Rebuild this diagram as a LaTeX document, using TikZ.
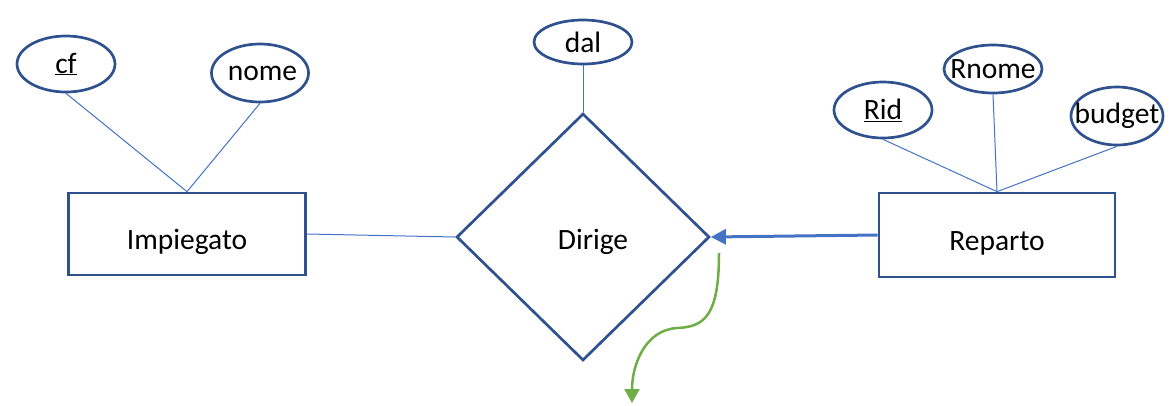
\documentclass[tikz,border=0pt]{standalone}
\usepackage{fontspec}
\setmainfont{Carlito}
\usetikzlibrary{arrows.meta, shapes.geometric}

\definecolor{erline}{HTML}{2F528F}
\definecolor{erlink}{HTML}{4472C4}
\definecolor{ergreen}{HTML}{70AD47}

\begin{document}
\begin{tikzpicture}[
  x=1pt, y=-1pt,
  entity/.style={rectangle, draw=erline, line width=2.7pt, inner sep=0pt, text height=30pt, text depth=0pt},
  attrib/.style={ellipse, draw=erline, line width=2.7pt, inner xsep=-15pt, inner ysep=-8pt},
  relship/.style={diamond, draw=erline, line width=2.7pt, inner sep=0pt},
  link/.style={draw=erlink, line width=1pt},
  every node/.style={font=\fontsize{29.5}{34}\selectfont}
]
\useasboundingbox (0,0) rectangle (1170,405);

% Entities
\node[entity, minimum width=237pt, minimum height=82pt] (imp) at (187,234) {Impiegato};
\node[entity, minimum width=236pt, minimum height=84pt] (rep) at (997,235) {Reparto};

% Relationship
\node[relship, minimum width=253pt, minimum height=247pt] (dirige) at (583,237) {};
\node (dirigetxt) at (593,242) {Dirige};

% Attributes
\node[attrib, minimum width=98pt, minimum height=56pt] (cf) at (66,64) {\underline{cf}};
\node[attrib, minimum width=97pt, minimum height=58pt] (nome) at (260,73) {\,nome};
\node[attrib, minimum width=98pt, minimum height=44pt] (dal) at (583,42) {dal};
\node[attrib, minimum width=98pt, minimum height=56pt] (rid) at (883,110) {\underline{Rid}};
\node[attrib, minimum width=98pt, minimum height=48pt] (rnome) at (993,69) {Rnome};
\node[attrib, minimum width=92pt, minimum height=58pt] (budget) at (1117,116) {budget};

% Attribute links
\draw[link] (cf.south) -- (imp.north);
\draw[link] (nome.south) -- (imp.north);
\draw[link] (dal.south) -- (dirige.north);
\draw[link] (rid.south) -- (rep.north);
\draw[link] (rnome.south) -- (rep.north);
\draw[link] (budget.south) -- (rep.north);

% Participation
\draw[link] (imp.east) -- (dirige.west);
\draw[draw=erlink, line width=3pt, -{Triangle[length=15pt, width=15pt]}] (rep.west) -- (dirige.east);

% Curved arrow
\coordinate (gstart) at (719,253);
\coordinate (gend) at (632,403);
\draw[draw=ergreen, line width=2.5pt, -{Triangle[length=14pt, width=15pt, fill=ergreen]}]
  (gstart) .. controls (719,315) and (705,327) .. (677,328)
  .. controls (645,330) and (632,365) .. (gend);

\end{tikzpicture}
\end{document}
